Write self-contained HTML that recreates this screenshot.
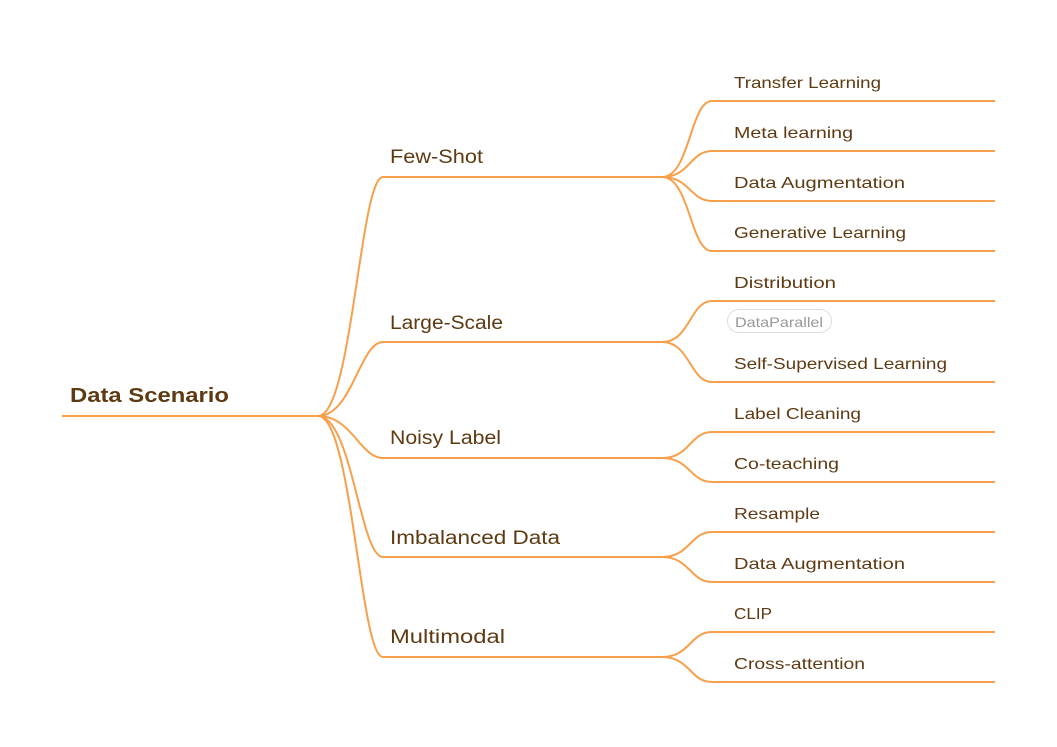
<!DOCTYPE html>
<html><head><meta charset="utf-8"><style>
html,body{margin:0;padding:0;background:#fff;width:1057px;height:747px;overflow:hidden}
text{font-family:"Liberation Sans",sans-serif;fill:#5e3a12}
</style></head><body>
<svg width="1057" height="747" xmlns="http://www.w3.org/2000/svg">
<g fill="none" stroke="#f7a04c" stroke-width="2">
<path d="M62 416 H318"/>
<path d="M318 416 C352 416 360 177 383 177 H662"/>
<path d="M318 416 C352 416 360 342 383 342 H662"/>
<path d="M318 416 C352 416 360 458 383 458 H662"/>
<path d="M318 416 C352 416 360 557 383 557 H662"/>
<path d="M318 416 C352 416 360 657 383 657 H662"/>
<path d="M662 177 C690 177 690 101 712 101 H995"/>
<path d="M662 177 C690 177 690 151 712 151 H995"/>
<path d="M662 177 C690 177 690 201 712 201 H995"/>
<path d="M662 177 C690 177 690 251 712 251 H995"/>
<path d="M662 342 C690 342 690 301 712 301 H995"/>
<path d="M662 342 C690 342 690 382 712 382 H995"/>
<path d="M662 458 C690 458 690 432 712 432 H995"/>
<path d="M662 458 C690 458 690 482 712 482 H995"/>
<path d="M662 557 C690 557 690 532 712 532 H995"/>
<path d="M662 557 C690 557 690 582 712 582 H995"/>
<path d="M662 657 C690 657 690 632 712 632 H995"/>
<path d="M662 657 C690 657 690 682 712 682 H995"/>
</g>
<text x="70" y="402" font-size="20" font-weight="bold" textLength="159" lengthAdjust="spacingAndGlyphs">Data Scenario</text>
<g font-size="19">
<text x="390" y="163" textLength="93" lengthAdjust="spacingAndGlyphs">Few-Shot</text>
<text x="390" y="329" textLength="113" lengthAdjust="spacingAndGlyphs">Large-Scale</text>
<text x="390" y="444" textLength="111" lengthAdjust="spacingAndGlyphs">Noisy Label</text>
<text x="390" y="544" textLength="170" lengthAdjust="spacingAndGlyphs">Imbalanced Data</text>
<text x="390" y="643" textLength="115" lengthAdjust="spacingAndGlyphs">Multimodal</text>
</g>
<g font-size="16">
<text x="734" y="88" textLength="147" lengthAdjust="spacingAndGlyphs">Transfer Learning</text>
<text x="734" y="138" textLength="119" lengthAdjust="spacingAndGlyphs">Meta learning</text>
<text x="734" y="188" textLength="171" lengthAdjust="spacingAndGlyphs">Data Augmentation</text>
<text x="734" y="238" textLength="172" lengthAdjust="spacingAndGlyphs">Generative Learning</text>
<text x="734" y="288" textLength="102" lengthAdjust="spacingAndGlyphs">Distribution</text>
<text x="734" y="369" textLength="213" lengthAdjust="spacingAndGlyphs">Self-Supervised Learning</text>
<text x="734" y="419" textLength="127" lengthAdjust="spacingAndGlyphs">Label Cleaning</text>
<text x="734" y="469" textLength="105" lengthAdjust="spacingAndGlyphs">Co-teaching</text>
<text x="734" y="519" textLength="86" lengthAdjust="spacingAndGlyphs">Resample</text>
<text x="734" y="569" textLength="171" lengthAdjust="spacingAndGlyphs">Data Augmentation</text>
<text x="734" y="619" textLength="38" lengthAdjust="spacingAndGlyphs">CLIP</text>
<text x="734" y="669" textLength="131" lengthAdjust="spacingAndGlyphs">Cross-attention</text>
</g>
<rect x="727.5" y="309.5" width="104" height="23" rx="11.5" fill="#fff" stroke="#ddd"/>
<text x="735" y="327" font-size="14" style="fill:#999" textLength="88" lengthAdjust="spacingAndGlyphs">DataParallel</text>
</svg>
</body></html>
